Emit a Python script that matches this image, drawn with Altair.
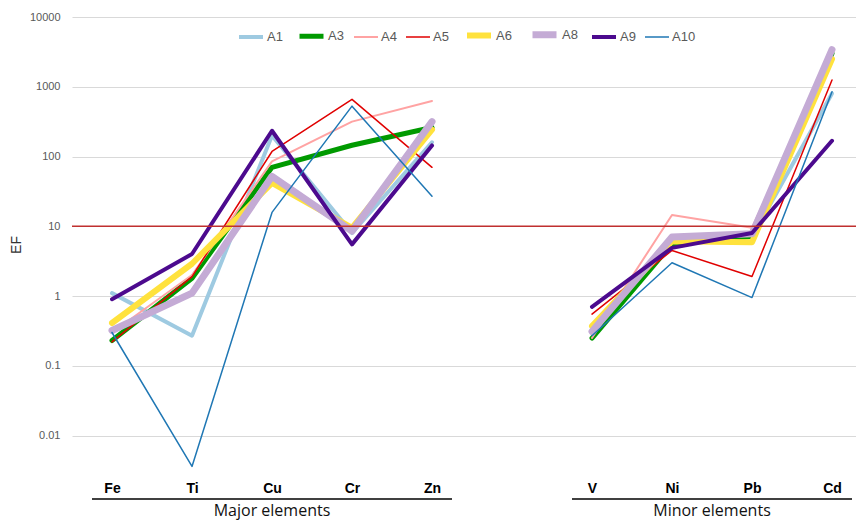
import altair as alt
import pandas as pd

elements = ["Fe", "Ti", "Cu", "Cr", "Zn", "V", "Ni", "Pb", "Cd"]
groups = ["Major elements"] * 5 + ["Minor elements"] * 4
group_names = ["Major elements", "Minor elements"]

series = ["A1", "A3", "A4", "A5", "A6", "A8", "A9", "A10"]
colors = ["#9ecae1", "#009a00", "#ffa3a3", "#e00000", "#ffe23d", "#c4abd5", "#4c0a8e", "#1f77b4"]
widths = [4, 5, 2, 1.5, 6, 7, 4, 1.5]

A1 = [1.1, 0.27, 200, 8, 160, 0.30, 5.5, 7.0, 800]
A3 = [0.23, 1.8, 70, 145, 260, 0.25, 5.6, 7.2, 3000]
A4 = [0.30, 2.0, 85, 316, 625, 0.25, 14.5, 9.5, 3000]
A5 = [0.22, 1.9, 118, 660, 70, 0.55, 4.5, 1.9, 1250]
A6 = [0.41, 2.9, 42, 9.5, 243, 0.37, 6.1, 5.9, 2500]
A8 = [0.32, 1.1, 52, 8.5, 316, 0.31, 7.0, 7.8, 3400]
A9 = [0.90, 4.0, 234, 5.5, 144, 0.70, 4.9, 8.0, 168]
A10 = [0.30, 0.0036, 15.8, 527, 27, 0.27, 3.0, 0.95, 850]
values = {"A1": A1, "A3": A3, "A4": A4, "A5": A5, "A6": A6, "A8": A8, "A9": A9, "A10": A10}

y_ticks = [0.01, 0.1, 1, 10, 100, 1000, 10000]
limit = [10]

# slot index: one empty slot between the two element groups
slots = [i if g == group_names[0] else i + 1 for i, g in enumerate(groups)]
slot_labels = [""] * (max(slots) + 1)
for e, s in zip(elements, slots):
    slot_labels[s] = e

rows = []
for s in series:
    for e, g, sl, v in zip(elements, groups, slots, values[s]):
        rows.append({"series": s, "element": e, "group": g, "slot": sl,
                     "seg": s + "|" + g, "ef": v})
df = pd.DataFrame(rows)

gstart = [min(sl for sl, g in zip(slots, groups) if g == gn) - 0.25 for gn in group_names]
gend = [max(sl for sl, g in zip(slots, groups) if g == gn) + 0.25 for gn in group_names]
gdf = pd.DataFrame({"group": group_names, "x1": gstart, "x2": gend})
gdf["mid"] = (gdf["x1"] + gdf["x2"]) / 2

label_expr = "[" + ",".join("'" + l + "'" for l in slot_labels) + "][round(datum.value)]"

xscale = alt.Scale(domain=[-0.5, 9.3], nice=False, zero=False)
yscale = alt.Scale(type="log", domain=[0.003, 10000], nice=False)

xaxis = alt.Axis(values=slots, labelExpr=label_expr, title=None, grid=False,
                 domain=False, ticks=False, labelFont="Liberation Sans",
                 labelFontWeight="bold", labelFontSize=14, labelColor="#000000",
                 labelPadding=9, labelBaseline="top")

lines = alt.Chart(df).mark_line(strokeCap="round", strokeJoin="round").encode(
    x=alt.X("slot:Q", scale=xscale, axis=xaxis, title=None),
    y=alt.Y("ef:Q", scale=yscale,
            axis=alt.Axis(values=y_ticks, format="~g", title="EF", grid=True,
                          gridColor="#d9d9d9", gridWidth=1, domain=False, ticks=False,
                          labelPadding=12, labelFont="Liberation Sans", labelFontSize=11,
                          labelColor="#595959", titleFont="Liberation Sans",
                          titleFontSize=14, titleFontWeight="normal", titleColor="#333333",
                          titlePadding=6)),
    color=alt.Color("series:N", scale=alt.Scale(domain=series, range=colors),
                    legend=alt.Legend(title=None, orient="none", legendX=165, legendY=2,
                                      direction="horizontal", symbolType="stroke",
                                      symbolSize=576, labelFont="Liberation Sans",
                                      labelFontSize=13, labelColor="#595959",
                                      labelOffset=2, columnPadding=6, padding=0)),
    strokeWidth=alt.StrokeWidth("series:N",
                                scale=alt.Scale(type="ordinal", domain=series, range=widths)),
    detail="seg:N",
)

rule10 = alt.Chart(pd.DataFrame({"ef": limit})).mark_rule(
    color="#c0302f", strokeWidth=1.6).encode(y=alt.Y("ef:Q", scale=yscale))

grule = alt.Chart(gdf).mark_rule(color="#000000", strokeWidth=1.5).encode(
    x=alt.X("x1:Q", scale=xscale, axis=xaxis, title=None), x2="x2:Q", y=alt.value(482))

gtext = alt.Chart(gdf).mark_text(font="Open Sans", fontSize=16, color="#111111",
                                 baseline="middle").encode(
    x=alt.X("mid:Q", scale=xscale, axis=xaxis, title=None), y=alt.value(494), text="group:N")

chart = alt.layer(lines, rule10, grule, gtext).properties(
    width=784, height=455,
    autosize=alt.AutoSizeParams(type="none"),
    padding={"left": 64, "top": 9, "right": 0, "bottom": 48},
).configure_view(stroke=None)

chart.save("out.html", embed_options={"renderer": "svg", "actions": False})
